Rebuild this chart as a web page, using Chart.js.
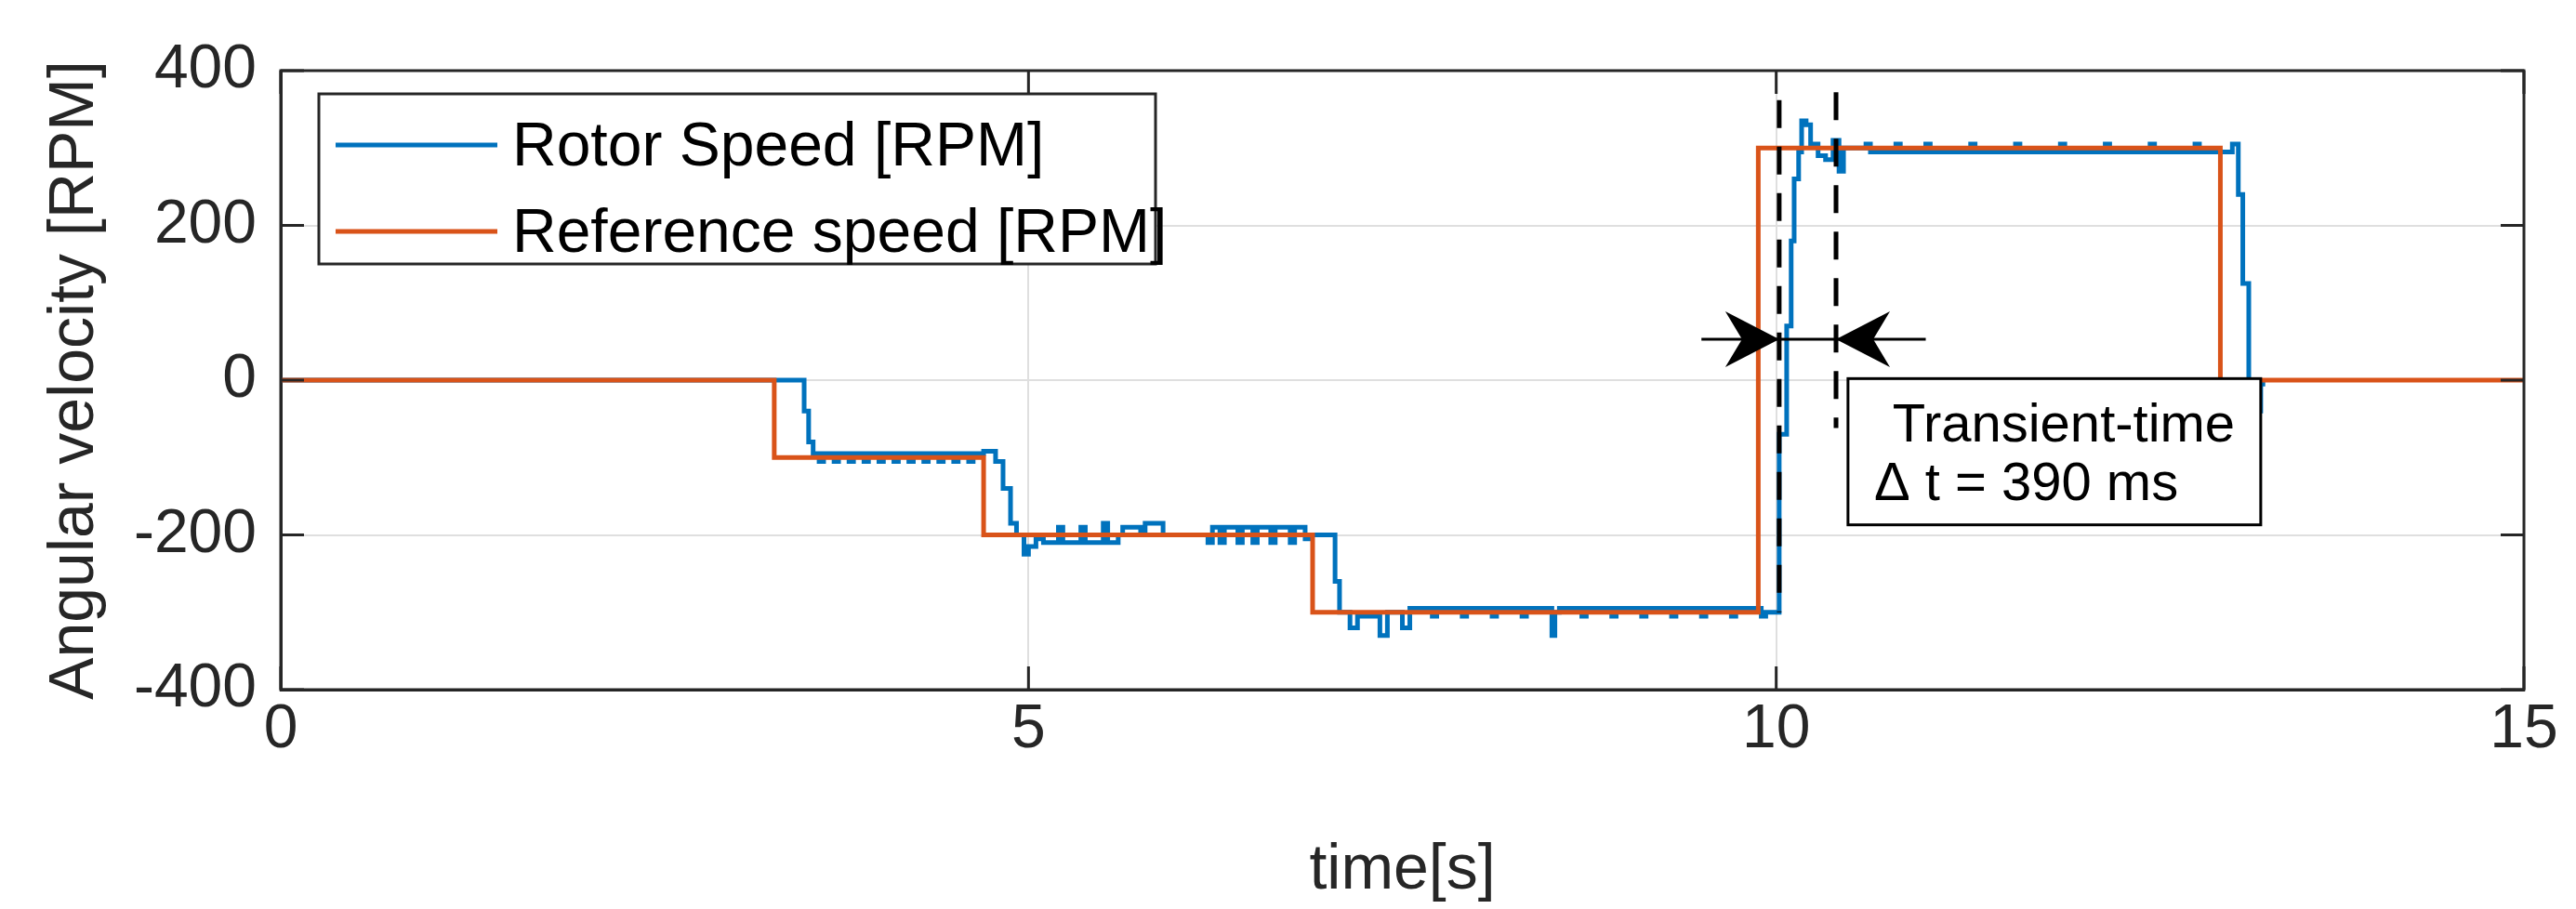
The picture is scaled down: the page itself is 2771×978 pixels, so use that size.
<!DOCTYPE html>
<html><head><meta charset="utf-8">
<script src="https://cdn.jsdelivr.net/npm/chart.js@4"></script>
<style>html,body{margin:0;background:#fff}#w{width:2771px;height:978px}</style>
</head><body><div id="w"><canvas id="c"></canvas></div>
<script>
const refTime=[0,3.30,4.70,6.90,9.88,12.97,15];
const refSpeed=[0,-100,-200,-300,300,0,0];
const rotorTime=[0,3.47,3.50,3.53,3.56,3.60,3.63,3.70,3.73,3.80,3.83,3.90,3.93,4.00,4.03,4.10,4.13,4.20,4.23,4.30,4.33,4.40,4.43,4.50,4.53,4.60,4.63,4.70,
4.78,4.83,4.88,4.92,4.97,5.00,5.05,5.08,5.10,5.20,5.23,5.35,5.38,5.50,5.53,5.60,5.63,5.75,5.78,5.90,6.00,6.20,6.23,6.28,6.31,6.40,6.43,6.50,6.53,6.62,6.65,6.75,6.78,6.85,6.88,
7.05,7.08,7.15,7.20,7.35,7.40,7.50,7.55,7.70,7.73,7.90,7.93,8.10,8.13,8.30,8.33,8.50,8.52,8.55,8.70,8.73,8.90,8.93,9.10,9.13,9.30,9.33,9.50,9.53,9.70,9.73,9.90,9.93,
10.02,10.07,10.10,10.12,10.15,10.17,10.20,10.23,10.28,10.33,10.38,10.42,10.45,10.6,10.63,10.8,10.83,11.0,11.03,11.3,11.33,11.6,11.63,11.9,11.93,12.2,12.23,12.5,12.53,12.8,12.83,13.05,13.09,13.12,13.16,13.20,13.24,13.27];
const rotorSpeed=[0,0,-40,-80,-95,-105,-95,-105,-95,-105,-95,-105,-95,-105,-95,-105,-95,-105,-95,-105,-95,-105,-95,-105,-95,-105,-95,-92,
-105,-140,-185,-200,-225,-215,-205,-200,-210,-190,-210,-190,-210,-185,-210,-200,-190,-200,-185,-200,-200,-210,-190,-210,-190,-210,-190,-210,-190,-210,-190,-210,-190,-205,-200,
-260,-300,-320,-305,-330,-300,-320,-295,-305,-295,-305,-295,-305,-295,-305,-295,-330,-300,-295,-305,-295,-305,-295,-305,-295,-305,-295,-305,-295,-305,-295,-305,-300,
-70,70,180,260,295,335,330,305,290,285,310,270,300,305,295,305,295,305,295,305,295,305,295,305,295,305,295,305,295,305,295,305,240,125,-25,-40,-5,-5];
const xTicks=[0,5,10,15];
const yTicks=[-400,-200,0,200,400];
const markerTimes=[10.02,10.40];
const seriesNames=['Rotor Speed [RPM]','Reference speed [RPM]'];
const colors=['#0072BD','#D95319'];
const boxLines=['Transient-time','\u0394 t = 390 ms'];

const FONT='"Liberation Sans",Arial,sans-serif';
const ink='#262626';
const pts=(t,v)=>t.map((x,i)=>({x:x,y:v[i]}));

const deco={id:'deco',afterDatasetsDraw(ch){
 const c=ch.ctx,xs=ch.scales.x,ys=ch.scales.y,a=ch.chartArea;
 c.save();
 c.strokeStyle=ink;c.lineWidth=3;
 xTicks.forEach(t=>{const X=xs.getPixelForValue(t);c.beginPath();c.moveTo(X,a.bottom);c.lineTo(X,a.bottom-25);c.moveTo(X,a.top);c.lineTo(X,a.top+25);c.stroke();});
 yTicks.forEach(t=>{const Y=ys.getPixelForValue(t);c.beginPath();c.moveTo(a.left,Y);c.lineTo(a.left+25,Y);c.moveTo(a.right,Y);c.lineTo(a.right-25,Y);c.stroke();});
 c.strokeStyle='#000';c.lineWidth=5;c.setLineDash([30,20]);
 const x1=xs.getPixelForValue(markerTimes[0]),x2=xs.getPixelForValue(markerTimes[1]);
 c.beginPath();c.moveTo(x1,ys.getPixelForValue(362));c.lineTo(x1,ys.getPixelForValue(-300));
 c.moveTo(x2,ys.getPixelForValue(372));c.lineTo(x2,ys.getPixelForValue(-62));c.stroke();
 c.setLineDash([]);
 const ay=ys.getPixelForValue(53);
 c.lineWidth=3;c.beginPath();
 c.moveTo(xs.getPixelForValue(9.50),ay);c.lineTo(x1,ay);c.lineTo(x2,ay);c.lineTo(xs.getPixelForValue(11.0),ay);c.stroke();
 c.fillStyle='#000';
 [[x1,-1],[x2,1]].forEach(([x,d])=>{c.beginPath();c.moveTo(x,ay);c.lineTo(x+d*58,ay-30);c.lineTo(x+d*40,ay);c.lineTo(x+d*58,ay+30);c.closePath();c.fill();});
 const bx=xs.getPixelForValue(10.48),bw=xs.getPixelForValue(13.24)-bx,by=ys.getPixelForValue(2),bh=ys.getPixelForValue(-187)-by;
 c.fillStyle='#fff';c.fillRect(bx,by,bw,bh);c.strokeStyle='#000';c.lineWidth=3;c.strokeRect(bx,by,bw,bh);
 c.fillStyle='#000';c.font='58px '+FONT;c.textBaseline='middle';
 c.textAlign='center';c.fillText(boxLines[0],bx+bw/2+10,by+bh*0.33);
 c.textAlign='left';c.fillText(boxLines[1],bx+28,by+bh*0.73);
 const lx=343,ly=101,lw=900,lh=183;
 c.fillStyle='#fff';c.fillRect(lx,ly,lw,lh);c.strokeStyle=ink;c.lineWidth=3;c.strokeRect(lx,ly,lw,lh);
 c.font='66px '+FONT;c.textAlign='left';
 seriesNames.forEach((n,i)=>{const yy=ly+55+i*93;c.strokeStyle=colors[i];c.lineWidth=5;c.beginPath();c.moveTo(lx+18,yy);c.lineTo(lx+192,yy);c.stroke();c.fillStyle='#000';c.fillText(n,lx+208,yy+4);});
 c.restore();
}};

new Chart(document.getElementById('c'),{
 type:'scatter',
 data:{datasets:[
  {label:seriesNames[0],data:pts(rotorTime,rotorSpeed),showLine:true,stepped:true,borderColor:colors[0],borderWidth:5,pointRadius:0,order:2},
  {label:seriesNames[1],data:pts(refTime,refSpeed),showLine:true,stepped:true,borderColor:colors[1],borderWidth:5,pointRadius:0,order:1}
 ]},
 options:{responsive:true,maintainAspectRatio:false,animation:false,
  layout:{padding:{top:76,right:56,left:0,bottom:0}},
  plugins:{legend:{display:false},tooltip:{enabled:false}},
  scales:{
   x:{type:'linear',min:0,max:15,afterBuildTicks:s=>{s.ticks=xTicks.map(v=>({value:v}));},
    afterFit:s=>{s.height=236;},
    ticks:{font:{family:FONT,size:66},color:ink,padding:4,maxRotation:0},
    grid:{color:'#dfdfdf',lineWidth:2,tickLength:0},border:{color:ink,width:3},
    title:{display:true,text:'time[s]',font:{family:FONT,size:68},color:ink,padding:{top:14,bottom:0}}},
   y:{type:'linear',min:-400,max:400,afterBuildTicks:s=>{s.ticks=yTicks.map(v=>({value:v}));},
    afterFit:s=>{s.width=302;},
    ticks:{font:{family:FONT,size:66},color:ink,padding:26},
    grid:{color:'#dfdfdf',lineWidth:2,tickLength:0},border:{color:ink,width:3},
    title:{display:true,text:'Angular velocity [RPM]',font:{family:FONT,size:68},color:ink,padding:{top:40,bottom:0}}}
  }},
 plugins:[deco,{id:'frame',afterDraw(ch){const c=ch.ctx,a=ch.chartArea;c.save();c.strokeStyle=ink;c.lineWidth=3;c.strokeRect(a.left,a.top,a.right-a.left,a.bottom-a.top);c.restore();}}]
});
</script></body></html>
